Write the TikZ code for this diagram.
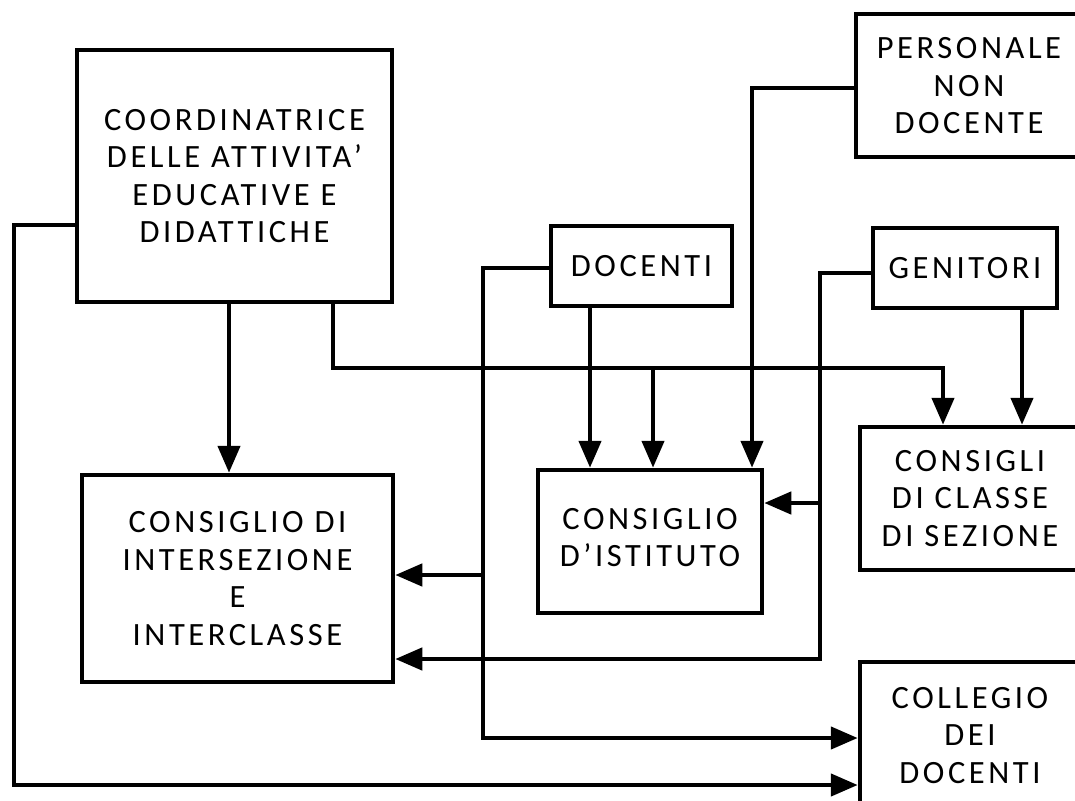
\documentclass[tikz,border=0pt]{standalone}
\usepackage{fontspec}
\setmainfont{Carlito}[LetterSpace=11]
\usetikzlibrary{arrows.meta}
\begin{document}
\begin{tikzpicture}[x=1pt,y=-1pt,
  box/.style={draw, line width=4.5pt, align=center, inner sep=0pt,
    font=\fontsize{32.5}{37.5}\selectfont},
  conn/.style={line width=4.5pt},
  arr/.style={conn, -{Triangle[length=27pt,width=22pt]}}]
\useasboundingbox (0,0) rectangle (1075,800);
\fill[white] (0,0) rectangle (1075,800);
\clip (0,0) rectangle (1075,800);

\node[box, minimum width=315pt, minimum height=252pt, text depth=-18pt] (coord) at (234.5,176)
  {COORDINATRICE\\DELLE ATTIVITA’\\EDUCATIVE E\\DIDATTICHE};
\node[box, minimum width=226pt, minimum height=143pt, text depth=-9pt] (pers) at (969,85.5)
  {PERSONALE\\NON\\DOCENTE};
\node[box, minimum width=181pt, minimum height=80pt] (doc) at (641.5,266) {DOCENTI};
\node[box, minimum width=184pt, minimum height=80pt] (gen) at (965,268) {GENITORI};
\node[box, minimum width=311pt, minimum height=207pt] (inter) at (237.5,578.5)
  {CONSIGLIO DI\\INTERSEZIONE\\E\\INTERCLASSE};
\node[box, minimum width=224pt, minimum height=143pt, text depth=8pt] (ist) at (650,541.5)
  {CONSIGLIO\\D’ISTITUTO};
\node[box, minimum width=220pt, minimum height=143pt] (cons) at (970,498.5)
  {CONSIGLI\\DI CLASSE\\DI SEZIONE};
\node[box, minimum width=220pt, minimum height=147pt] (coll) at (970,735.5)
  {COLLEGIO\\DEI\\DOCENTI};

% coordinatrice
\draw[arr] (coord.west |- 0,225) -- (14,225) -- (14,785) -- (coll.west |- 0,785);
\draw[arr] (coord.south -| 229,0) -- (inter.north -| 229,0);
\draw[arr] (coord.south -| 333,0) |- (943,368) -- (cons.north -| 943,0);
\draw[arr] (653,368) -- (ist.north -| 653,0);
% docenti
\draw[arr] (doc.west |- 0,268) -| (483,738) -- (coll.west |- 0,738);
\draw[arr] (483,575) -- (inter.east |- 0,575);
\draw[arr] (doc.south -| 590,0) -- (ist.north -| 590,0);
% personale
\draw[arr] (pers.west |- 0,88) -| (ist.north -| 752,0);
% genitori
\draw[arr] (gen.west |- 0,273) -| (820,659) -- (inter.east |- 0,659);
\draw[arr] (820,503) -- (ist.east |- 0,503);
\draw[arr] (gen.south -| 1022,0) -- (cons.north -| 1022,0);
\end{tikzpicture}
\end{document}
